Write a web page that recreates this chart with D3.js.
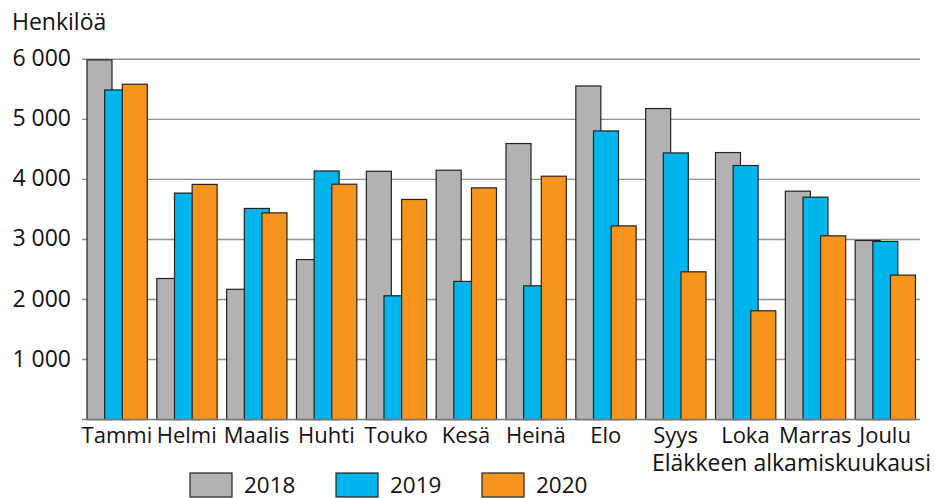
<!DOCTYPE html>
<html>
<head>
<meta charset="utf-8">
<script src="https://cdn.jsdelivr.net/npm/d3@7"></script>
<style>
  body { margin: 0; background: #fff; }
  text { font-family: "Open Sans", sans-serif; fill: #111; }
</style>
</head>
<body>
<div id="container"></div>
<script>
var months = ['Tammi', 'Helmi', 'Maalis', 'Huhti', 'Touko', 'Kesä', 'Heinä', 'Elo', 'Syys', 'Loka', 'Marras', 'Joulu'];
var years = ['2018', '2019', '2020'];
var v2018 = [5990, 2350, 2170, 2665, 4135, 4153, 4597, 5556, 5180, 4447, 3804, 2983];
var v2019 = [5490, 3772, 3516, 4141, 2062, 2301, 2228, 4807, 4441, 4231, 3704, 2967];
var v2020 = [5585, 3917, 3443, 3920, 3666, 3859, 4053, 3226, 2461, 1812, 3060, 2406];
var yTicks = [1000, 2000, 3000, 4000, 5000, 6000];
var colors = {'2018': '#b2b2b2', '2019': '#00b5ec', '2020': '#f7941e'};

var width = 935, height = 498;
var svg = d3.select('#container')
      .append('svg')
      .attr('width', width)
      .attr('height', height);

var x = d3.scaleBand().domain(months).range([82, 920]).padding(0);
var xSub = d3.scalePoint().domain(years).range([5, 40.3]);
var barW = 25;
var y = d3.scaleLinear().domain([0, 6000]).range([419.6, 59.3]);
var fmt = d3.formatLocale({decimal: ',', thousands: '\u00a0', grouping: [3], currency: ['', '']}).format(',d');

// gridlines
svg.selectAll('line.grid')
  .data(yTicks)
  .enter()
  .append('line')
  .attr('class', 'grid')
  .attr('x1', 82).attr('x2', 920)
  .attr('y1', function(d) { return y(d); })
  .attr('y2', function(d) { return y(d); })
  .style('stroke', '#8f8f8f')
  .style('stroke-width', 1.4);

// y labels
svg.selectAll('text.ytick')
  .data(yTicks)
  .enter()
  .append('text')
  .attr('class', 'ytick')
  .attr('x', 71)
  .attr('y', function(d) { return y(d) + 7; })
  .attr('text-anchor', 'end')
  .style('font-size', '23px')
  .text(function(d) { return fmt(d); });

svg.append('text')
  .attr('x', 12).attr('y', 30)
  .style('font-size', '23px')
  .text('Henkilöä');

// bars
var rows = months.map(function(m, i) {
  return {month: m, vals: [
    {year: '2018', v: v2018[i]},
    {year: '2019', v: v2019[i]},
    {year: '2020', v: v2020[i]}
  ]};
});

var groups = svg.selectAll('g.month')
  .data(rows)
  .enter()
  .append('g')
  .attr('class', 'month')
  .attr('transform', function(d) { return 'translate(' + x(d.month) + ',0)'; });

groups.selectAll('rect')
  .data(function(d) { return d.vals; })
  .enter()
  .append('rect')
  .attr('x', function(d) { return xSub(d.year); })
  .attr('width', barW)
  .attr('y', function(d) { return y(d.v); })
  .attr('height', function(d) { return y(0) - y(d.v); })
  .style('fill', function(d) { return colors[d.year]; })
  .style('stroke', '#222')
  .style('stroke-width', 1.2);

// baseline
svg.append('line')
  .attr('x1', 82).attr('x2', 920)
  .attr('y1', y(0)).attr('y2', y(0))
  .style('stroke', '#777')
  .style('stroke-width', 1.5);

// month labels
svg.selectAll('text.xtick')
  .data(months)
  .enter()
  .append('text')
  .attr('class', 'xtick')
  .attr('x', function(d) { return x(d) + x.bandwidth() / 2; })
  .attr('y', 443)
  .attr('text-anchor', 'middle')
  .style('font-size', '22px')
  .text(function(d) { return d; });

svg.append('text')
  .attr('x', 931).attr('y', 470.5)
  .attr('text-anchor', 'end')
  .style('font-size', '23px')
  .text('Eläkkeen alkamiskuukausi');

// legend
var legend = svg.selectAll('g.legend')
  .data(years)
  .enter()
  .append('g')
  .attr('class', 'legend')
  .attr('transform', function(d, i) { return 'translate(' + (190 + i * 146) + ',473)'; });

legend.append('rect')
  .attr('width', 42).attr('height', 24)
  .style('fill', function(d) { return colors[d]; })
  .style('stroke', '#222')
  .style('stroke-width', 1.2);

legend.append('text')
  .attr('x', 54).attr('y', 19.5)
  .style('font-size', '22.5px')
  .text(function(d) { return d; });
</script>
</body>
</html>
